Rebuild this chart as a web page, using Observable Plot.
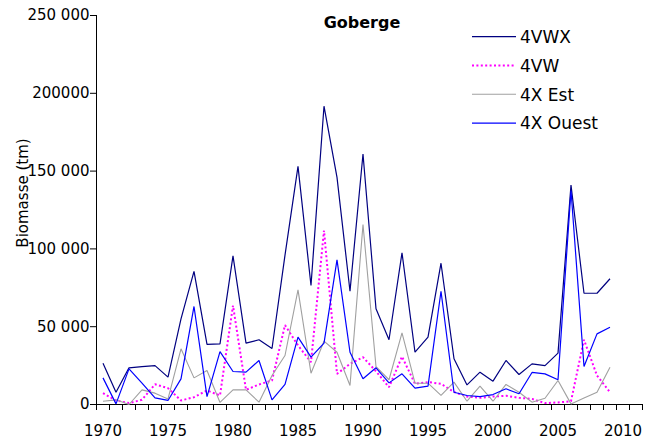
<!DOCTYPE html>
<html><head><meta charset="utf-8">
<script src="https://cdn.jsdelivr.net/npm/d3@7"></script>
<script src="https://cdn.jsdelivr.net/npm/@observablehq/plot@0.6"></script>
<style>
body{margin:0;background:#fff;}
#wrap{position:relative;width:647px;height:442px;}
</style></head><body><div id="wrap"></div>
<script>
const years = [1970,1971,1972,1973,1974,1975,1976,1977,1978,1979,
               1980,1981,1982,1983,1984,1985,1986,1987,1988,1989,
               1990,1991,1992,1993,1994,1995,1996,1997,1998,1999,
               2000,2001,2002,2003,2004,2005,2006,2007,2008,2009];
// tonnes
const vwx = [26500,7900,23600,24400,25000,17600,55000,85500,38600,39000,
             95500,39400,41600,36000,96000,153000,76500,191700,146000,72800,
             161000,61500,41600,97500,33600,43300,90800,29400,12600,20800,
             15000,28300,19300,26100,25000,33000,141000,71500,71500,80800];
const vw = [7300,2600,900,3000,13000,10500,2600,4700,9000,5800,
            63600,9400,12900,15400,51000,38000,27200,111800,19700,26100,
            30400,21400,11100,30800,13300,14400,13300,8000,5100,4300,
            5100,5600,4300,3600,900,1300,2100,41600,18600,7900];
const est = [2100,3000,0,9400,7300,3600,35800,17100,21900,1300,
             9400,9400,1500,18600,31500,73700,20100,40700,33600,12200,
             115700,24400,15900,46000,13700,13700,5800,14400,2100,11800,
             2100,12900,7900,1500,4000,15400,400,4200,7900,24000];
const ouest = [17100,400,22900,13700,4300,2600,16500,63000,5100,34000,
               21200,20800,28300,3000,12900,43300,30400,39400,93000,33600,
               16500,23600,13900,19700,10500,11800,72800,7900,5800,5100,
               6400,10100,6900,20600,19700,15900,137500,24400,45400,49700];

const seriesNames = ["4VWX","4VW","4X Est","4X Ouest"];
const seriesValues = [vwx, vw, est, ouest];
const seriesColors = ["#000080","#FF00FF","#A0A0A0","#0000FF"];
const seriesDash = [null,"2,2.4",null,null];
const seriesWidth = [1.2,2,1.1,1.2];

const yTicks = [0,50000,100000,150000,200000,250000];
const yTickLabels = ["0","50 000","100 000","150 000","200000","250 000"];
const xLabelYears = [1970,1975,1980,1985,1990,1995,2000,2005,2010];
const xFirstCat = 1970, xLastCat = 2011; // category axis extends one slot past 2010

const title = "Goberge";
const yTitle = "Biomasse (tm)";

const xDomain = [xFirstCat - 0.5, xLastCat + 0.5];
const boundaries = d3.range(xFirstCat - 0.5, xLastCat + 1, 1);
const yLabelMap = new Map(yTicks.map((t,i)=>[t, yTickLabels[i]]));

const font = "DejaVu Sans, sans-serif";

const lineMarks = seriesNames.map((name, k) =>
  Plot.line(years.map((y,i)=>({year:y, value:seriesValues[k][i]})), {
    x:"year", y:"value", stroke:seriesColors[k], strokeWidth:seriesWidth[k],
    strokeDasharray:seriesDash[k] ?? undefined, strokeLinejoin:"miter", strokeLinecap:"butt"
  })
);

const plot = Plot.plot({
  width:647, height:442,
  marginLeft:96, marginRight:5, marginTop:15, marginBottom:38,
  style:{fontFamily:font, fontSize:"15px", color:"#000", background:"#fff", overflow:"visible"},
  x:{domain:xDomain, axis:null},
  y:{domain:[0,250000], axis:null},
  marks:[
    Plot.ruleX([xDomain[0]], {stroke:"#000", strokeWidth:1}),
    Plot.ruleY([0], {stroke:"#000", strokeWidth:1}),
    Plot.axisY({ticks:yTicks, tickSize:6, tickPadding:1, tickFormat:d=>yLabelMap.get(d), fontSize:15, label:null}),
    Plot.axisX({ticks:boundaries, tickSize:6, tickFormat:()=>"", label:null}),
    Plot.axisX({ticks:xLabelYears, tickSize:0, tickPadding:21, tickFormat:d=>String(d), fontSize:15, label:null}),
    ...lineMarks,
    Plot.text([yTitle], {text:d=>d, frameAnchor:"left", textAnchor:"middle", lineAnchor:"middle",
      rotate:-90, dx:-73, dy:-17, fontSize:15})
  ]
});
document.getElementById("wrap").appendChild(plot);

// title and legend drawn into the plot's svg
const svg = d3.select(plot.tagName.toLowerCase()==="svg" ? plot : plot.querySelector("svg"));
const g = svg.append("g").attr("font-family", font).attr("text-anchor","start");
g.append("text").attr("x",362).attr("y",28).attr("text-anchor","middle")
  .attr("font-weight","bold").attr("font-size",16).text(title);
const leg = g.append("g");
seriesNames.forEach((name,k)=>{
  const cy = 36.7 + 28.8*k;
  leg.append("line").attr("x1",472).attr("x2",516).attr("y1",cy).attr("y2",cy)
    .attr("stroke",seriesColors[k]).attr("stroke-width",seriesWidth[k])
    .attr("stroke-dasharray",seriesDash[k]);
  leg.append("text").attr("x",520).attr("y",cy+6.3).attr("font-size",17)
    .attr("text-anchor","start").text(name);
});
</script></body></html>
